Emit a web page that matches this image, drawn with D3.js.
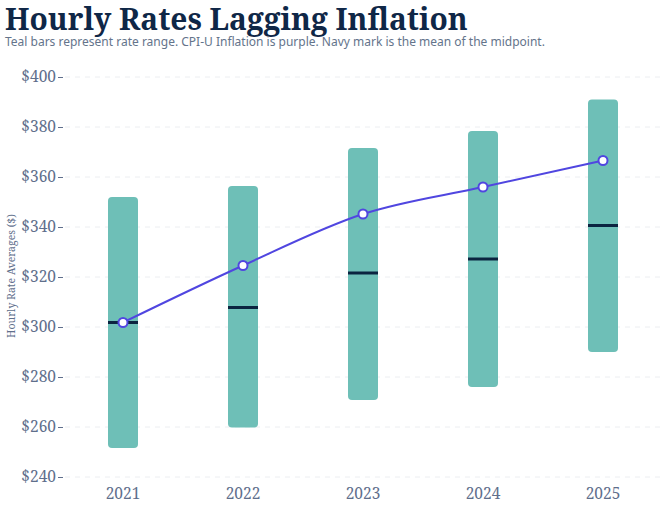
<!DOCTYPE html>
<html>
<head>
<meta charset="utf-8">
<script src="https://cdn.jsdelivr.net/npm/d3@7/dist/d3.min.js"></script>
<style>
  html, body { margin: 0; padding: 0; background: #fff; }
  svg { display: block; }
</style>
</head>
<body>
<div id="chart"></div>
<script>
/* global d3 */

var years = ["2021", "2022", "2023", "2024", "2025"];
var rateLow = [251.6, 259.8, 270.8, 276.0, 290.0];
var rateHigh = [352.0, 356.4, 371.6, 378.4, 391.0];
var rateMidMean = [301.8, 307.8, 321.6, 327.2, 340.6];
var cpiInflation = [301.8, 324.6, 345.2, 356.0, 366.6];
var yTicks = [240, 260, 280, 300, 320, 340, 360, 380, 400];

var W = 668, H = 508;
var margin = { top: 77, right: 5, bottom: 31, left: 63 };

var SERIF = "'Noto Serif', 'DejaVu Serif', serif";
var SANS = "'Noto Sans', 'Open Sans', sans-serif";

var svg = d3.select('#chart')
  .append('svg')
	.attr('width', W)
	.attr('height', H);

// title block
svg.append('text')
	.attr('x', 5)
	.attr('y', 30)
	.attr('font-family', SERIF)
	.attr('font-size', 29.9)
	.attr('font-weight', 700)
	.style('fill', '#0f2747')
	.text('Hourly Rates Lagging Inflation');

svg.append('text')
	.attr('x', 5)
	.attr('y', 46)
	.attr('font-family', SANS)
	.attr('font-size', 12)
	.style('fill', '#64748b')
	.text('Teal bars represent rate range. CPI-U Inflation is purple. Navy mark is the mean of the midpoint.');

var x = d3.scaleBand()
	.domain(years)
	.range([margin.left, W - margin.right])
	.paddingInner(0.75)
	.paddingOuter(0.375);

var y = d3.scaleLinear()
	.domain([240, 400])
	.range([H - margin.bottom, margin.top]);

// grid
svg.append('g')
	.selectAll('line')
	.data(yTicks)
	.join('line')
	.attr('x1', margin.left + 2)
	.attr('x2', W - 8)
	.attr('y1', function(d){ return y(d); })
	.attr('y2', function(d){ return y(d); })
	.attr('stroke', '#eceef1')
	.attr('stroke-dasharray', '5,5');

// y axis
var yAxis = svg.append('g')
	.attr('transform', 'translate(' + (margin.left) + ',0)')
	.call(d3.axisLeft(y).tickValues(yTicks).tickSize(5).tickPadding(2)
		.tickFormat(function(d){ return '$' + d; }));
yAxis.select('.domain').remove();
yAxis.selectAll('line').attr('stroke', '#5f6f8c');
yAxis.selectAll('text')
	.attr('font-family', SERIF)
	.attr('font-size', 15.5)
	.style('fill', '#5f6f8c');

svg.append('text')
	.attr('transform', 'translate(15,' + 276 + ') rotate(-90)')
	.attr('font-family', SERIF)
	.attr('font-size', 10.5)
	.style('text-anchor', 'middle')
	.style('fill', '#5f6f8c')
	.text('Hourly Rate Averages ($)');

// x axis labels
var xAxis = svg.append('g')
	.attr('transform', 'translate(0,' + (H - margin.bottom) + ')')
	.call(d3.axisBottom(x).tickSize(0).tickPadding(11));
xAxis.select('.domain').remove();
xAxis.selectAll('text')
	.attr('font-family', SERIF)
	.attr('font-size', 15.5)
	.style('fill', '#5f6f8c');

// range bars
svg.append('g')
	.selectAll('rect')
	.data(years)
	.join('rect')
	.attr('x', function(d){ return x(d); })
	.attr('width', x.bandwidth())
	.attr('y', function(d, i){ return y(rateHigh[i]); })
	.attr('height', function(d, i){ return y(rateLow[i]) - y(rateHigh[i]); })
	.attr('rx', 4)
	.attr('fill', '#6ebfb7');

// navy mean-of-midpoint marks
svg.append('g')
	.selectAll('line')
	.data(years)
	.join('line')
	.attr('x1', function(d){ return x(d); })
	.attr('x2', function(d){ return x(d) + x.bandwidth(); })
	.attr('y1', function(d, i){ return y(rateMidMean[i]); })
	.attr('y2', function(d, i){ return y(rateMidMean[i]); })
	.attr('stroke', '#0b2440')
	.attr('stroke-width', 3);

// CPI line
var cx = function(d, i){ return x(years[i]) + x.bandwidth() / 2; };

var line = d3.line()
	.x(cx)
	.y(function(d){ return y(d); })
	.curve(d3.curveMonotoneX);

svg.append('path')
	.datum(cpiInflation)
	.attr('d', line)
	.attr('fill', 'none')
	.attr('stroke', '#5046e0')
	.attr('stroke-width', 2);

svg.append('g')
	.selectAll('circle')
	.data(cpiInflation)
	.join('circle')
	.attr('cx', cx)
	.attr('cy', function(d){ return y(d); })
	.attr('r', 4.5)
	.attr('fill', '#fff')
	.attr('stroke', '#5046e0')
	.attr('stroke-width', 2);
</script>
</body>
</html>
